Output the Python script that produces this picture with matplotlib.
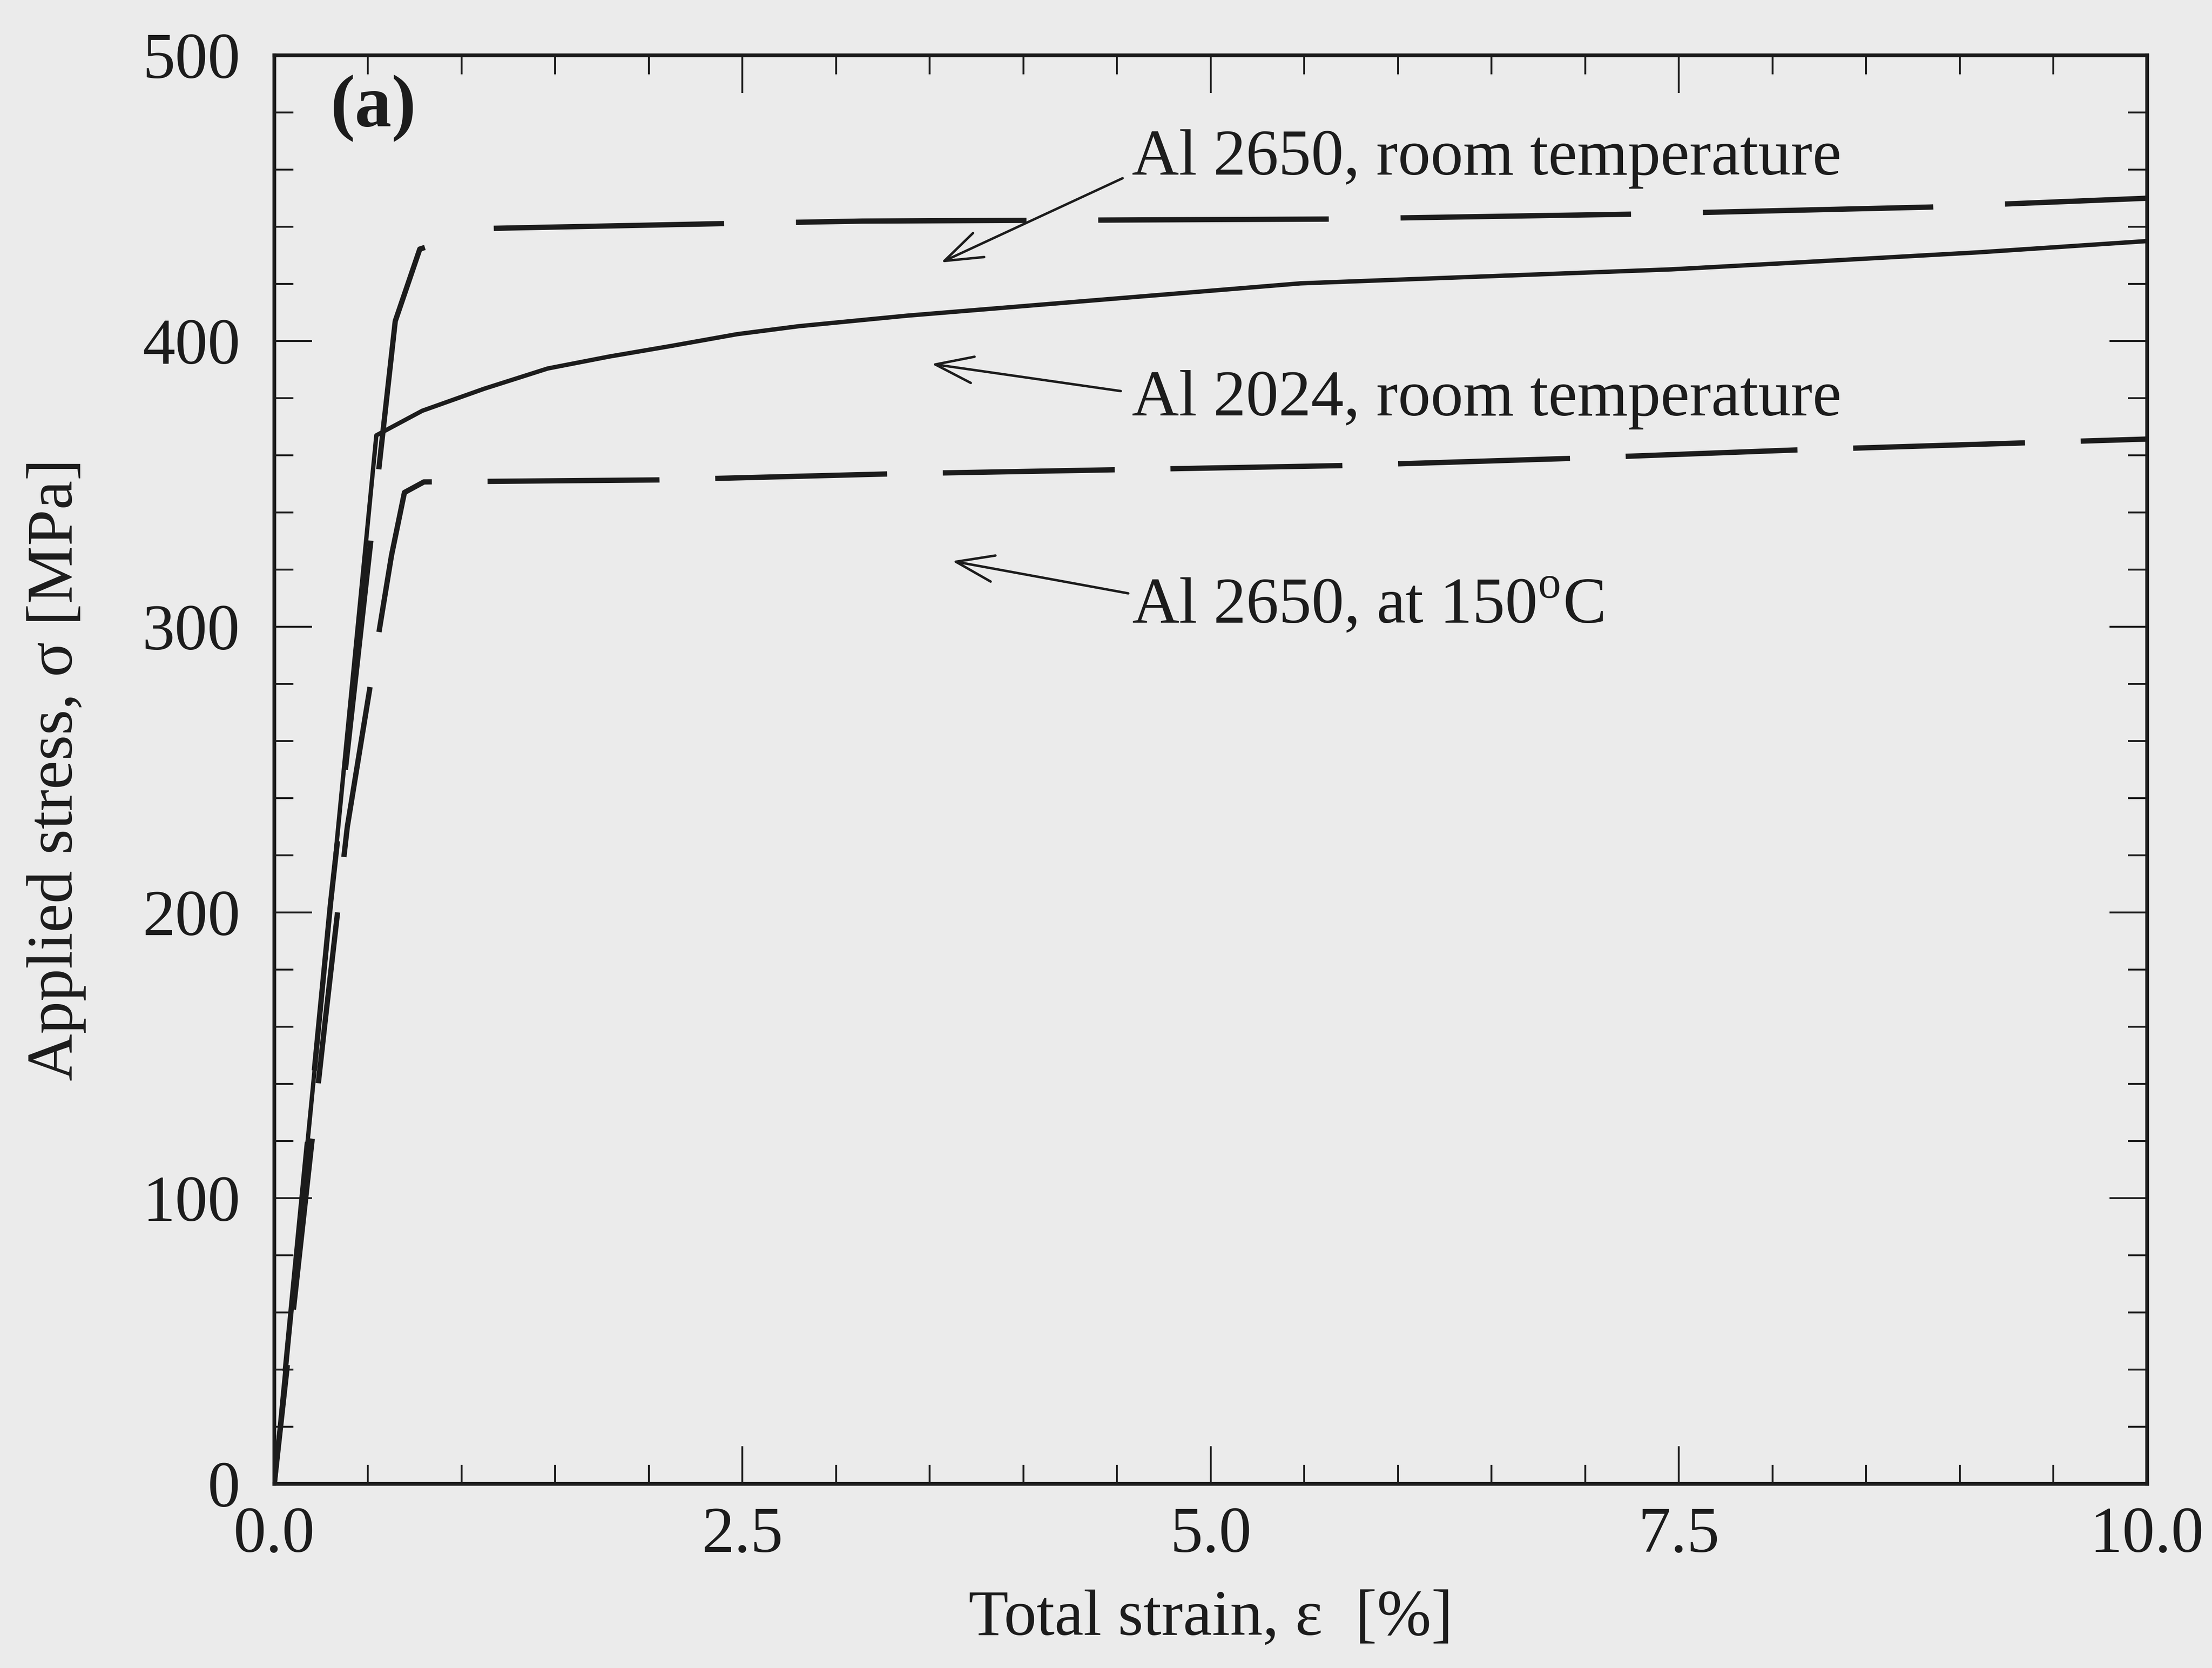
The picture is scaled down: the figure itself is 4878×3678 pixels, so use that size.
import numpy as np
import matplotlib
matplotlib.use('Agg')
import matplotlib.pyplot as plt
from matplotlib.ticker import MultipleLocator

# stress-strain curves
strain_2024 = [0.0, 0.545, 0.79, 1.12, 1.46, 1.79, 2.12, 2.47, 2.80, 3.38, 5.48, 7.46, 8.13, 9.11, 10.0]
stress_2024 = [0, 367, 375.6, 383.3, 390.4, 394.6, 398.3, 402.4, 405.2, 408.9, 420.2, 425.1, 427.5, 431.1, 435]

strain_2650_rt = [0.0, 0.30, 0.646, 0.777, 1.12, 2.385, 3.14, 5.62, 7.23, 8.84, 10.0]
stress_2650_rt = [0, 203, 407, 432.2, 439.4, 441.1, 442, 442.7, 444.4, 446.9, 450]

strain_2650_150 = [0.0, 0.27, 0.39, 0.576, 0.626, 0.695, 0.799, 2.05, 3.28, 5.69, 6.91, 8.13, 10.0]
stress_2650_150 = [0, 161, 230, 305, 325, 347, 350.7, 351.4, 353.5, 356.4, 358.9, 361.9, 365.7]

labels = ['Al 2650, room temperature', 'Al 2024, room temperature', 'Al 2650, at 150$^{\\mathrm{o}}$C']
label_xy = [(4.58, 458.3), (4.58, 374), (4.58, 301.4)]
arrow_tail = [(4.53, 457), (4.52, 382.5), (4.56, 311.7)]
arrow_head = [(3.56, 427.5), (3.51, 392), (3.62, 323)]

x_ticks = [0.0, 2.5, 5.0, 7.5, 10.0]
y_ticks = [0, 100, 200, 300, 400, 500]

BG = '#ebebeb'
INK = '#1c1c1c'
FS = 34.5

plt.rcParams['font.family'] = ['Liberation Serif', 'DejaVu Serif']
plt.rcParams['mathtext.fontset'] = 'custom'
plt.rcParams['mathtext.rm'] = 'Liberation Serif'
plt.rcParams['lines.scale_dashes'] = False

fig = plt.figure(figsize=(4878 / 300, 3678 / 300), dpi=300, facecolor=BG)
ax = fig.add_axes([0.1240, 0.1104, 0.8466, 0.8564], facecolor=BG)
ax.set_xlim(0, 10)
ax.set_ylim(0, 500)


def dash_offset(xs, ys, x_start, period):
    """Offset (pt) so that a dash begins at x_start along the curve."""
    pix = ax.transData.transform(np.column_stack([xs, ys]))
    seg = np.hypot(*np.diff(pix, axis=0).T) * 72.0 / fig.dpi
    cum = np.concatenate([[0.0], np.cumsum(seg)])
    s = np.interp(x_start, xs, cum)
    return (-s) % period


on_top, off_top = 122.0, 38.0
on_bot, off_bot = 91.0, 29.5
off1 = dash_offset(strain_2650_rt, stress_2650_rt, 4.40, on_top + off_top)
off2 = dash_offset(strain_2650_150, stress_2650_150, 3.57, on_bot + off_bot)

ax.plot(strain_2650_rt, stress_2650_rt, color=INK, lw=2.8,
        linestyle=(off1, (on_top, off_top)), solid_capstyle='butt', dash_capstyle='butt')
ax.plot(strain_2650_150, stress_2650_150, color=INK, lw=2.8,
        linestyle=(off2, (on_bot, off_bot)), dash_capstyle='butt')
ax.plot(strain_2024, stress_2024, color=INK, lw=2.3)

for text, (tx, ty), tail, head in zip(labels, label_xy, arrow_tail, arrow_head):
    ax.text(tx, ty, text, fontsize=FS, color=INK, ha='left', va='baseline')
    ax.annotate('', xy=head, xytext=tail,
                arrowprops=dict(arrowstyle='->,head_length=1.0,head_width=0.35',
                                lw=1.3, color=INK, shrinkA=0, shrinkB=0,
                                mutation_scale=20))

ax.text(0.30, 481.4, '(a)', fontsize=39, fontweight='bold', color=INK,
        ha='left', va='center')

ax.xaxis.set_major_locator(MultipleLocator(2.5))
ax.xaxis.set_minor_locator(MultipleLocator(0.5))
ax.yaxis.set_major_locator(MultipleLocator(100))
ax.yaxis.set_minor_locator(MultipleLocator(20))
ax.set_xticks(x_ticks)
ax.set_xticklabels([f'{v:.1f}' for v in x_ticks])
ax.set_yticks(y_ticks)
ax.set_yticklabels([str(v) for v in y_ticks])

ax.tick_params(which='both', direction='in', top=True, right=True,
               color=INK, width=1.0, labelcolor=INK, labelsize=FS)
ax.tick_params(which='major', length=20)
ax.tick_params(which='minor', length=10)
ax.tick_params(axis='x', pad=12)
ax.tick_params(axis='y', pad=18)
for sp in ax.spines.values():
    sp.set_linewidth(2.0)
    sp.set_color(INK)

ax.set_ylabel('Applied stress, \u03c3 [MPa]', fontsize=FS, color=INK, va='center')
ax.yaxis.set_label_coords(-0.1165, 0.5)
ax.set_xlabel('Total strain, \u03b5  [%]', fontsize=FS, color=INK, va='center')
ax.xaxis.set_label_coords(0.5, -0.0949)

fig.savefig('out.png', dpi=300, facecolor=BG)
